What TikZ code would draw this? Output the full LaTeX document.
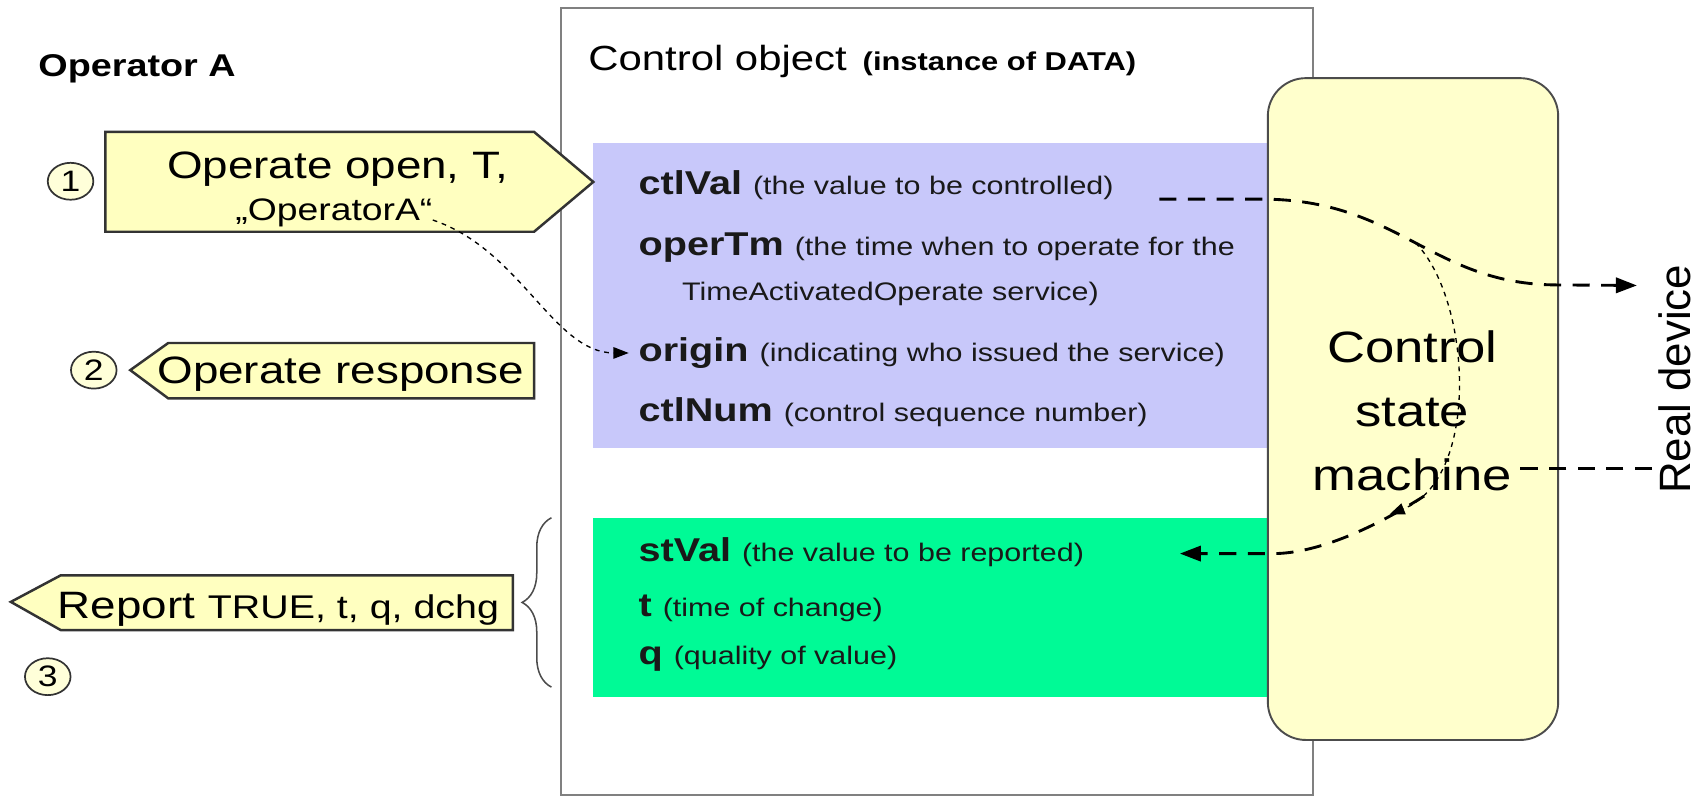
\documentclass[tikz,border=0pt]{standalone}
\usepackage{fontspec}
\setmainfont{Liberation Sans}[FakeStretch=1.2]
\newfontfamily\rdfont{Liberation Sans}
\usetikzlibrary{arrows.meta, shapes.geometric, decorations.pathreplacing}

\definecolor{valblue}{RGB}{200,200,250}
\definecolor{stgreen}{RGB}{0,250,150}
\definecolor{msgyellow}{RGB}{255,255,192}
\definecolor{csmyellow}{RGB}{255,255,204}

\newcommand{\fld}[2]{{\fontsize{17.3}{20}\selectfont\bfseries #1 }{\fontsize{13.3}{16}\selectfont #2}}
\newcommand{\flddesc}[1]{{\fontsize{13.3}{16}\selectfont #1}}

\tikzset{
  msgbox/.style={draw=black!80, line width=1.3pt, fill=msgyellow},
  numcirc/.style={
    ellipse, draw=black!80, line width=0.9pt, fill=msgyellow!60,
    minimum width=8.4mm, minimum height=6.8mm, inner sep=0pt,
    font=\fontsize{15.5}{18}\selectfont
  },
  msgtxt/.style={font=\fontsize{20}{24}\selectfont, inner sep=0pt},
  fldrow/.style={anchor=base west, inner sep=0pt, text=black!90},
  areabox/.style={fill=#1, draw=none, minimum width=125.7mm, inner sep=0pt},
  objbox/.style={draw=black!50, line width=1pt, inner sep=0pt},
  csmbox/.style={
    draw=black!70, line width=1pt, fill=csmyellow,
    rounded corners=7mm, inner sep=0pt
  },
  csmtxt/.style={align=center, font=\fontsize{23}{33.4}\selectfont, inner sep=0pt},
  rdtxt/.style={rotate=90, font=\rdfont\fontsize{23}{27}\selectfont, inner sep=0pt},
  sigline/.style={dash pattern=on 9pt off 6pt, line width=1.5pt},
  sigarrow/.style={-{Triangle[length=11pt,width=8pt]}},
  tapline/.style={dash pattern=on 2.5pt off 2.5pt, line width=0.7pt},
  taparrow/.style={-{Triangle[length=8pt,width=6pt]}},
  bracepath/.style={decorate, decoration={brace, amplitude=5.4mm}, line width=0.8pt, draw=black!70},
}

\begin{document}
\begin{tikzpicture}[x=0.2mm, y=-0.2mm]
  \fill[white] (0,0) rectangle (1568,733);
  \useasboundingbox (0,0) rectangle (1568,733);

  \node[objbox, minimum width=138.6mm, minimum height=144.96mm] (ctlobj) at (863.5,370.1) {};
  \node[areabox=valblue, minimum height=56.3mm] (valbox) at (860.75,272.25) {};
  \node[areabox=stgreen, minimum height=33mm] (stbox) at (860.75,559.5) {};
  \node[csmbox, minimum width=53.5mm, minimum height=121.94mm] (csm) at (1301.75,376.85) {};

  \node[anchor=base west, inner sep=0pt, font=\fontsize{16.5}{20}\selectfont\bfseries] (opa) at (35,70.5) {Operator A};
  \node[anchor=base west, inner sep=0pt] (title) at (541.7,65)
    {{\fontsize{18.3}{22}\selectfont Control object}\hspace{5pt} {\fontsize{13.5}{16}\selectfont\bfseries (instance of DATA)}};

  \draw[msgbox] (97,121.5) -- (492,121.5) -- (546.6,167.6) -- (492,213.5) -- (97,213.5) -- cycle;
  \node[msgtxt, anchor=base] (optxt) at (311,164) {Operate open, T,};
  \node[inner sep=0pt, anchor=base, font=\fontsize{16.3}{20}\selectfont] (opname) at (307.6,202.7) {„OperatorA“};
  \draw[msgbox] (120,341) -- (155,316) -- (492,316) -- (492,367) -- (155,367) -- cycle;
  \node[msgtxt, anchor=base] (resp) at (313.8,353) {Operate response};
  \draw[msgbox] (10,554.5) -- (56,530) -- (472.5,530) -- (472.5,580.5) -- (56,580.5) -- cycle;
  \node[msgtxt, anchor=base west] (rep) at (52.9,569.5) {Report {\fontsize{17.2}{20}\selectfont TRUE, t, q, dchg}};

  \node[numcirc] (n1) at (65,167) {1};
  \node[numcirc] (n2) at (86.4,341) {2};
  \node[numcirc] (n3) at (44,623.4) {3};

  \node[fldrow] (ctlval) at (588,179.6) {\fld{ctlVal}{(the value to be controlled)}};
  \node[fldrow] (opertm) at (588,235) {\fld{operTm}{(the time when to operate for the}};
  \node[fldrow] (opertmb) at (628,276.4) {\flddesc{TimeActivatedOperate service)}};
  \node[fldrow] (orig) at (588,333) {\fld{origin}{(indicating who issued the service)}};
  \node[fldrow] (ctlnum) at (588,388.5) {\fld{ctlNum}{(control sequence number)}};
  \node[fldrow] (stval) at (588,517.4) {\fld{stVal}{(the value to be reported)}};
  \node[fldrow] (tfld) at (588,568) {\fld{t}{(time of change)}};
  \node[fldrow] (qfld) at (588,612.6) {\fld{q}{(quality of value)}};

  \node[csmtxt] (csmlbl) at (1301,378.5) {Control\\state\\machine};
  \node[rdtxt] (realdev) at (1542.6,349.5) {Real device};

  \draw[bracepath] (508,633) -- (508,477);

  \coordinate (cvout) at (1068,183.5);
  \coordinate (rdout) at (1508,263);
  \coordinate (rdin) at (1522,432);
  \coordinate (smout) at (1396,432);
  \coordinate (smin) at (1312,457);
  \coordinate (stin) at (1087,510);
  \coordinate (tapend) at (1280,474);

  \draw[sigline, sigarrow] (cvout) -- (1168,183.5) .. controls (1290,186) and (1320,262) .. (1434,262.5) coordinate[pos=0.5] (tap) -- (rdout);
  \draw[sigline] (rdin) -- (smout);
  \draw[sigline, sigarrow] (smin) .. controls (1260,490) and (1210,510) .. (1173,510) -- (stin);
  \draw[tapline, taparrow] (tap) .. controls (1355,275) and (1365,440) .. (tapend);
  \draw[tapline, taparrow] (opname.base east) .. controls (480,230) and (510,325) .. ([xshift=-5pt]orig.west);
\end{tikzpicture}
\end{document}
